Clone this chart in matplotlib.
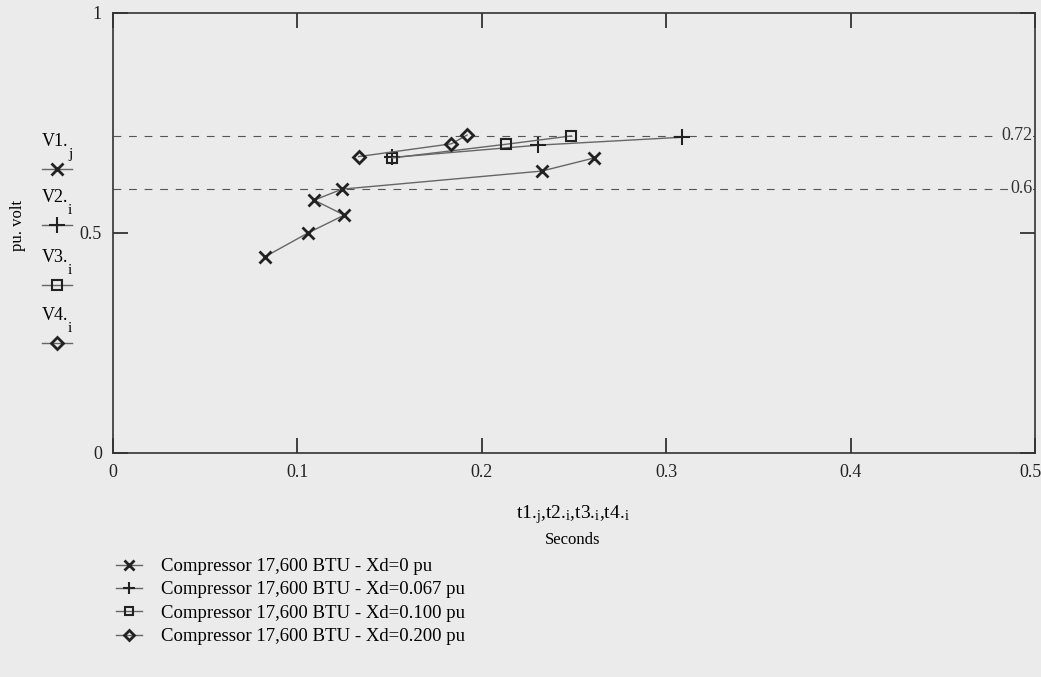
import numpy as np
import matplotlib
matplotlib.use("Agg")
import matplotlib.pyplot as plt
import matplotlib.transforms as mtransforms
from matplotlib.lines import Line2D

plt.rcParams['font.family'] = ['Liberation Serif', 'DejaVu Serif']
plt.rcParams['mathtext.fontset'] = 'custom'
plt.rcParams['mathtext.rm'] = 'Liberation Serif'
plt.rcParams['mathtext.it'] = 'Liberation Serif:italic'

W, H = 1041, 677
BG = '#ebebeb'

# data (seconds, pu volt)
t1 = [0.0825, 0.106, 0.1254, 0.1091, 0.1242, 0.2324, 0.2611]
V1 = [0.4455, 0.500, 0.540, 0.574, 0.599, 0.640, 0.670]
t2 = [0.1515, 0.2307, 0.3087]
V2 = [0.671, 0.699, 0.717]
t3 = [0.1515, 0.2132, 0.2486]
V3 = [0.670, 0.701, 0.720]
t4 = [0.1332, 0.1835, 0.192]
V4 = [0.673, 0.702, 0.722]

limits = [0.72, 0.6]
limit_labels = ['0.72', '0.6']
series_names = ['V1.', 'V2.', 'V3.', 'V4.']
series_subs = ['j', 'i', 'i', 'i']
legend_labels = ['Compressor 17,600 BTU - Xd=0 pu',
                 'Compressor 17,600 BTU - Xd=0.067 pu',
                 'Compressor 17,600 BTU - Xd=0.100 pu',
                 'Compressor 17,600 BTU - Xd=0.200 pu']


def px(x, y):
    # pixel position -> figure fraction
    return x / W, 1 - y / H


fig = plt.figure(figsize=(W / 100, H / 100), dpi=100, facecolor=BG)
x0, y1 = px(113, 12.7)
x1, y0 = px(1035, 452.7)
ax = fig.add_axes([x0, y0, x1 - x0, y1 - y0], facecolor=BG)

line_c = '#666666'
mk_c = '#222222'
styles = [
    dict(marker='x', markersize=9, mew=2.0),
    dict(marker='+', markersize=11, mew=1.5),
    dict(marker='s', markersize=6.5, mew=1.5, mfc='none'),
    dict(marker='D', markersize=6.5, mew=2.0, mfc='none'),
]
handles = []
for (t, v), st in zip([(t1, V1), (t2, V2), (t3, V3), (t4, V4)], styles):
    h, = ax.plot(t, v, color=line_c, lw=1.0, mec=mk_c, **st)
    handles.append(h)

for y, lab in zip(limits, limit_labels):
    ax.axhline(y, color='#555555', lw=0.8, ls=(0, (7, 7)), zorder=1)
    ax.text(0.4985, y, lab, ha='right', va='center', fontsize=13, color='#333333',
            bbox=dict(facecolor=BG, edgecolor='none', pad=0.5))

ax.set_xlim(0, 0.5)
ax.set_ylim(0, 1)
ax.set_xticks(np.arange(0, 0.51, 0.1))
ax.set_xticklabels(['0', '0.1', '0.2', '0.3', '0.4', '0.5'])
ax.set_yticks([0, 0.5, 1])
ax.set_yticklabels(['0', '0.5', '1'])
ax.tick_params(axis='both', direction='in', length=11, width=1.3, color='#333333',
               labelsize=13, labelcolor='#222222', pad=8)
ax.tick_params(axis='x', top=True)
ax.tick_params(axis='y', right=True)
for s in ax.spines.values():
    s.set_color('#333333')
    s.set_linewidth(1.2)

# keep the last x label inside the picture
last = ax.get_xticklabels()[-1]
last.set_transform(last.get_transform() +
                   mtransforms.ScaledTranslation(-5 / 100, 0, fig.dpi_scale_trans))

# y axis label
fig.text(*px(18, 225), 'pu. volt', rotation=90, ha='center', va='center', fontsize=12)

# left side series key
key_y = [141.7, 198, 258, 316]
for name, sub, st, ky in zip(series_names, series_subs, styles, key_y):
    fig.text(*px(55, ky), name, ha='center', va='center', fontsize=13)
    fig.text(*px(70, ky + 13), sub, ha='center', va='center', fontsize=11)
    mx, my = px(57, ky + 27)
    lx0, _ = px(42, 0)
    lx1, _ = px(72, 0)
    fig.add_artist(Line2D([lx0, lx1], [my, my], transform=fig.transFigure,
                          color=line_c, lw=1.0))
    fig.add_artist(Line2D([mx], [my], transform=fig.transFigure, color=line_c,
                          ls='none', mec=mk_c, **st))

# x axis label
fig.text(*px(573, 515), r't1.$_\mathrm{j}$,t2.$_\mathrm{i}$,t3.$_\mathrm{i}$,t4.$_\mathrm{i}$',
         ha='center', va='center', fontsize=14)
fig.text(*px(573, 540), 'Seconds', ha='center', va='center', fontsize=12)

# bottom legend
fig.legend(handles, legend_labels, loc='upper left', bbox_to_anchor=px(116, 558),
           frameon=False, fontsize=13.5, handlelength=1.4, handletextpad=1.0,
           labelspacing=0.33, borderaxespad=0, borderpad=0, markerscale=0.8)

fig.savefig('out.png', dpi=100, facecolor=BG)
